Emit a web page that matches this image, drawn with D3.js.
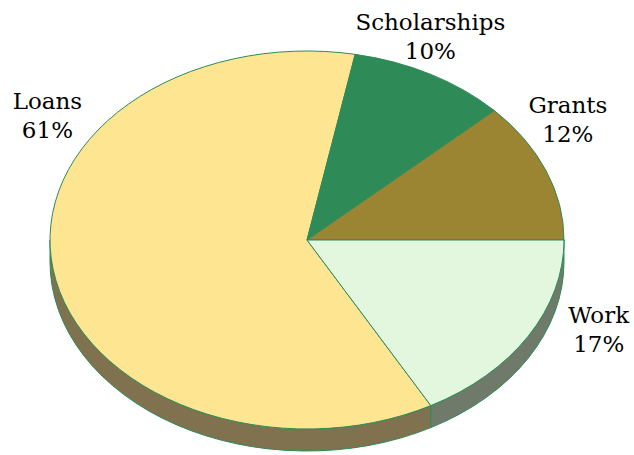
<!DOCTYPE html>
<html>
<head>
<meta charset="utf-8">
<script src="https://cdn.jsdelivr.net/npm/d3@7"></script>
<style>
  body { margin: 0; background: #fff; }
  svg { display: block; }
</style>
</head>
<body>
<svg id="drawing_region"></svg>
<script>
// data
const categories = ['Loans', 'Scholarships', 'Grants', 'Work'];
const shares = [61, 10, 12, 17];
const labels = ['61%', '10%', '12%', '17%'];
const topColors = ['#fee592', '#2e8b57', '#9b8532', '#e3f7df'];
const sideColors = ['#80724e', '#1f5e3b', '#6a5b22', '#707a6b'];

const width = 634, height = 455;
const cx = 307, cy = 240, rx = 257, ry = 189, depth = 22;
// label offsets as fraction of radii, relative to the centre
const labelAt = {
    Loans: [-1.01, -0.62],
    Scholarships: [0.48, -1.04],
    Grants: [1.015, -0.60],
    Work: [1.135, 0.51]
};

const svg = d3.select('#drawing_region')
    .attr('width', width)
    .attr('height', height);

const x = d3.scaleLinear().domain([-1, 1]).range([cx - rx, cx + rx]);
const y = d3.scaleLinear().domain([-1, 1]).range([cy - ry, cy + ry]);

const total = d3.sum(shares);
const start = Math.PI / 2 + 2 * Math.PI * shares[shares.length - 1] / total;

const pie = d3.pie().sort(null).value(d => d.value)
    .startAngle(start).endAngle(start + 2 * Math.PI);

const data = categories.map((c, i) => ({ name: c, value: shares[i], label: labels[i], top: topColors[i], side: sideColors[i] }));
const arcs = pie(data);

// d3 angle (0 = up, clockwise) -> parametric ellipse angle
const toT = a => a - Math.PI / 2;
const pt = (t, dy = 0) => [x(Math.cos(t)), y(Math.sin(t)) + dy];

function topPath(d) {
    const t0 = toT(d.startAngle), t1 = toT(d.endAngle);
    const p0 = pt(t0), p1 = pt(t1);
    const large = (t1 - t0) > Math.PI ? 1 : 0;
    return `M${cx},${cy}L${p0[0]},${p0[1]}A${rx},${ry} 0 ${large} 1 ${p1[0]},${p1[1]}Z`;
}

function sidePaths(d) {
    const t0 = toT(d.startAngle), t1 = toT(d.endAngle);
    const out = [];
    for (let k = -1; k <= 2; k++) {
        const lo = Math.max(t0, 2 * Math.PI * k), hi = Math.min(t1, 2 * Math.PI * k + Math.PI);
        if (hi - lo > 1e-6) {
            const a = pt(lo), b = pt(hi), bd = pt(hi, depth), ad = pt(lo, depth);
            out.push(`M${a[0]},${a[1]}A${rx},${ry} 0 0 1 ${b[0]},${b[1]}L${bd[0]},${bd[1]}A${rx},${ry} 0 0 0 ${ad[0]},${ad[1]}Z`);
        }
    }
    return out;
}

const sides = svg.append('g');
arcs.forEach(d => {
    sidePaths(d).forEach(p => {
        sides.append('path')
            .attr('d', p)
            .attr('fill', d.data.side)
            .attr('stroke', '#2e8b57')
            .attr('stroke-width', 1)
            .attr('stroke-linejoin', 'round');
    });
});

svg.append('g').selectAll('path')
    .data(arcs).enter()
    .append('path')
    .attr('d', topPath)
    .attr('fill', d => d.data.top)
    .attr('stroke', '#2e8b57')
    .attr('stroke-width', 1)
    .attr('stroke-linejoin', 'round');

const text = svg.append('g')
    .attr('font-family', '"DejaVu Serif", serif')
    .attr('font-size', 23)
    .attr('fill', '#000')
    .attr('text-anchor', 'middle');

arcs.forEach(d => {
    const off = labelAt[d.data.name];
    const t = text.append('text')
        .attr('x', cx + off[0] * rx)
        .attr('y', cy + off[1] * ry);
    t.append('tspan').attr('x', cx + off[0] * rx).attr('dy', '-0.6em').text(d.data.name);
    t.append('tspan').attr('x', cx + off[0] * rx).attr('dy', '1.27em').text(d.data.label);
});
</script>
</body>
</html>
